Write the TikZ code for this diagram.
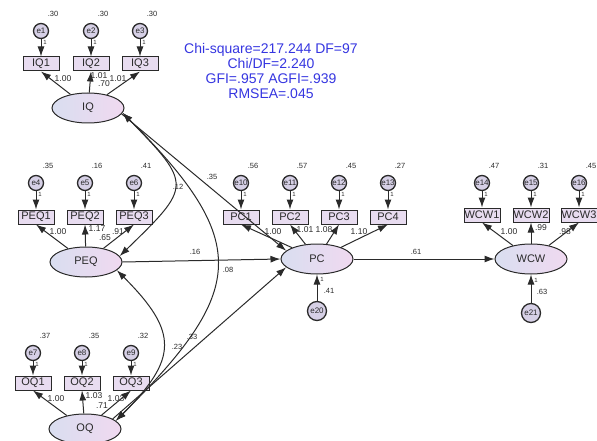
\documentclass[tikz,border=0pt]{standalone}
\usepackage{fontspec}
\setmainfont{Liberation Sans}
\usetikzlibrary{arrows.meta,shapes.geometric}
\definecolor{ink}{HTML}{2A2A2A}
\definecolor{boxfill}{HTML}{E8DCF0}
\definecolor{latl}{HTML}{D9DEF0}
\definecolor{latr}{HTML}{F0D9F0}
\definecolor{errfill}{HTML}{D6D0E6}
\definecolor{fitblue}{HTML}{3535E0}

\begin{document}
\begin{tikzpicture}[x=1pt,y=-1pt,>={Latex[length=10pt,width=7pt]},line width=1pt,color=ink,
  obs/.style={draw=ink,fill=boxfill,minimum width=36pt,minimum height=14pt,inner sep=0pt,font=\fontsize{11}{11}\selectfont},
  lat/.style={ellipse,draw=ink,left color=latl,right color=latr,minimum width=72pt,minimum height=30pt,inner sep=0pt,font=\fontsize{11}{11}\selectfont},
  err/.style={circle,draw=ink,line width=1.3pt,fill=errfill,minimum size=15pt,inner sep=0pt,font=\fontsize{8}{8}\selectfont},
  num/.style={inner sep=0pt,font=\fontsize{7.5}{7.5}\selectfont},
  one/.style={inner sep=0pt,font=\fontsize{6}{6}\selectfont},
  load/.style={inner sep=0pt,font=\fontsize{8.5}{8.5}\selectfont}]
  \useasboundingbox (0,0) rectangle (597,441);
  \node[text=fitblue,align=center,font=\fontsize{14}{15}\selectfont] (fit) at (271,70.5)
    {Chi-square=217.244 DF=97\\Chi/DF=2.240\\GFI=.957 AGFI=.939\\RMSEA=.045};
  \node[lat] (IQ) at (88,108) {IQ};
  \node[lat] (PEQ) at (86,262) {PEQ};
  \node[lat] (OQ) at (85,429) {OQ};
  \node[lat] (PC) at (317,259) {PC};
  \node[lat] (WCW) at (531,259) {WCW};
  \node[err,minimum size=19pt] (e20) at (317,311) {e20};
  \node[err,minimum size=19pt] (e21) at (531,313) {e21};
  \foreach \n/\o/\f/\x/\ey/\oy/\v in {
    1/IQ1/IQ/41/31/64/.30,
    2/IQ2/IQ/91/31/64/.30,
    3/IQ3/IQ/140/31/64/.30,
    4/PEQ1/PEQ/36/183/217/.35,
    5/PEQ2/PEQ/85/183/217/.16,
    6/PEQ3/PEQ/134/183/217/.41,
    7/OQ1/OQ/33/353/383/.37,
    8/OQ2/OQ/82/353/383/.35,
    9/OQ3/OQ/131/353/383/.32,
    10/PC1/PC/241/183/217/.56,
    11/PC2/PC/290/183/217/.57,
    12/PC3/PC/339/183/217/.45,
    13/PC4/PC/388/183/217/.27,
    14/WCW1/WCW/482/183/215/.47,
    15/WCW2/WCW/531/183/215/.31,
    16/WCW3/WCW/579/183/215/.45}
  {
    \node[err] (e\n) at (\x,\ey) {e\n};
    \node[obs] (\o) at (\x,\oy) {\o};
    \node[num] (v\n) at (\x+12,\ey-17) {\v};
    \node[one] (w\n) at (\x+4,\ey+11) {1};
    \draw[->] (e\n) -- (\o);
    \draw[->] (\f) -- (\o.south);
  }
  \draw[->] (IQ.-10) -- (PC.165);
  \draw[->] (PEQ.east) -- (PC.west);
  \draw[->] (OQ.20) -- (PC.195);
  \draw[->] (PC.east) -- (WCW.west);
  \draw[->] (e20) -- (PC);
  \draw[->] (e21) -- (WCW);
  \draw[<->] (IQ.-8) .. controls +(70,72) and +(72,-70) .. (PEQ.10);
  \draw[<->] (IQ.-8) .. controls +(130,130) and +(130,-130) .. (OQ.15);
  \draw[<->] (PEQ.-15) .. controls +(62,62) and +(62,-62) .. (OQ.15);
  \foreach \x/\y/\t [count=\k] in {
    63/79/1.00, 99/76/1.01, 104/84/.70, 118/79/1.01,
    58/232/1.00, 97/229/1.17, 105/238/.65, 118/232/.91,
    56/399/1.00, 94/396/1.03, 102/406/.71, 116/399/1.03,
    273/232/1.00, 305/230/1.01, 324/230/1.08, 359/232/1.10,
    509/232/1.00, 541/228/.99, 565/232/.98}
  {
    \node[load] (ld\k) at (\x,\y) {\t};
  }
  \foreach \x/\y/\t [count=\k] in {
    212/177/.35, 178/187/.12, 195/252/.16, 228/270/.08,
    177/347/.23, 192/337/.33, 416/252/.61,
    329/291/.41, 542/292/.63}
  {
    \node[num] (pth\k) at (\x,\y) {\t};
  }
  \node[one] (w20) at (322,279) {1};
  \node[one] (w21) at (536,280) {1};
\end{tikzpicture}
\end{document}
